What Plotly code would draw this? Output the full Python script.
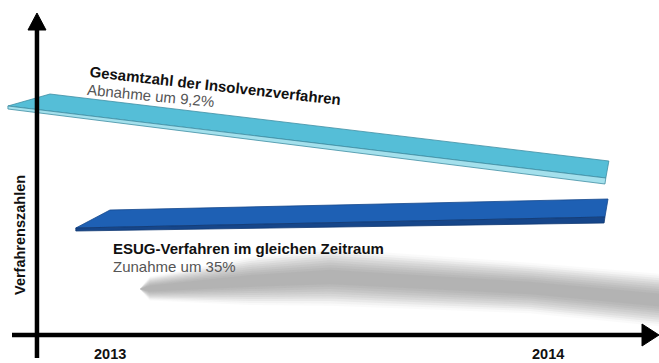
import plotly.graph_objects as go

# ---------------- data (time axis in years, value axis in relative index units) ----------------
years = [2013, 2014]
year_labels = ["2013", "2014"]
y_axis_title = "Verfahrenszahlen"

# Gesamtzahl der Insolvenzverfahren (decreasing band)
gesamt_top_x = [2012.767, 2012.863, 2014.139, 2014.132]
gesamt_top_y = [229, 241, 174, 157]
gesamt_front_x = [2012.767, 2014.132, 2014.130, 2012.767]
gesamt_front_y = [229, 157, 151, 226]
gesamt_title = "Gesamtzahl der Insolvenzverfahren"
gesamt_sub = "Abnahme um 9,2%"

# ESUG-Verfahren (increasing band)
esug_top_x = [2012.922, 2013.000, 2014.137, 2014.130]
esug_top_y = [107, 125, 136, 118]
esug_front_x = [2012.922, 2014.130, 2014.128, 2012.922]
esug_front_y = [107, 118, 112, 104]
esug_title = "ESUG-Verfahren im gleichen Zeitraum"
esug_sub = "Zunahme um 35%"

# soft drop shadow (centre line and half thickness)
shadow_x = [2013.068, 2013.091, 2013.320, 2013.502, 2013.662, 2013.959, 2014.279]
shadow_c = [46, 46.5, 54, 58, 54, 47, 34]
shadow_h = [0, 10, 20, 24, 23, 21, 22]

# axis ranges
x_range = [2012.7489, 2014.2534]
y_range = [-28, 335]

FONT = "Liberation Sans, Arial, Helvetica, sans-serif"

fig = go.Figure()

# shadow layers (stacked translucent polygons to fake a blur)
layers = [(1.2, 0.04), (1.1, 0.05), (1.0, 0.07), (0.9, 0.08), (0.8, 0.08),
          (0.7, 0.08), (0.6, 0.08), (0.5, 0.08), (0.4, 0.08), (0.3, 0.07)]
for k, a in layers:
    up = [c + h * k for c, h in zip(shadow_c, shadow_h)]
    lo = [c - h * k for c, h in zip(shadow_c, shadow_h)]
    fig.add_trace(go.Scatter(
        x=shadow_x + shadow_x[::-1], y=up + lo[::-1],
        mode="lines", fill="toself", line=dict(width=0),
        fillcolor=f"rgba(120,120,120,{a})", hoverinfo="skip", showlegend=False))

def band(xs, ys, fill, edge):
    fig.add_trace(go.Scatter(
        x=xs + xs[:1], y=ys + ys[:1], mode="lines", fill="toself",
        fillcolor=fill, line=dict(color=edge, width=0.8),
        hoverinfo="skip", showlegend=False))

band(gesamt_top_x, gesamt_top_y, "#55bed7", "#3f8ea3")
band(gesamt_front_x, gesamt_front_y, "#a4e0ec", "#3f8ea3")
band(esug_top_x, esug_top_y, "#1e60b4", "#15488c")
band(esug_front_x, esug_front_y, "#16468a", "#113a73")

# axes arrows
xv = 2012.8333
shapes = [
    dict(type="line", xref="x", yref="y", x0=xv, x1=xv, y0=-23, y1=308,
         line=dict(color="black", width=4.5)),
    dict(type="path", xref="x", yref="y",
         path=f"M {xv},322 L 2012.8128,305 L 2012.8539,305 Z",
         fillcolor="black", line=dict(color="black", width=1)),
    dict(type="line", xref="x", yref="y", x0=2012.7763, x1=2014.2170, y0=0, y1=0,
         line=dict(color="black", width=4.5)),
    dict(type="path", xref="x", yref="y",
         path="M 2014.2534,0 L 2014.2146,11 L 2014.2146,-11 Z",
         fillcolor="black", line=dict(color="black", width=1)),
]

annotations = [
    dict(x=2013.2409, y=249.5, text=f"<b>{gesamt_title}</b>", textangle=6.4,
         font=dict(family=FONT, size=15, color="#111"), showarrow=False,
         xanchor="center", yanchor="middle"),
    dict(x=2013.0936, y=240, text=gesamt_sub, textangle=5.6,
         font=dict(family=FONT, size=15, color="#555"), showarrow=False,
         xanchor="center", yanchor="middle"),
    dict(x=2013.0068, y=87, text=f"<b>{esug_title}</b>",
         font=dict(family=FONT, size=15, color="#111"), showarrow=False,
         xanchor="left", yanchor="middle", xshift=-2),
    dict(x=2013.0068, y=69, text=esug_sub,
         font=dict(family=FONT, size=15, color="#555"), showarrow=False,
         xanchor="left", yanchor="middle", xshift=-2),
    dict(x=2012.7945, y=100, text=f"<b>{y_axis_title}</b>", textangle=-90,
         font=dict(family=FONT, size=14.5, color="#111"), showarrow=False,
         xanchor="center", yanchor="middle"),
]
for yr, lab in zip(years, year_labels):
    annotations.append(dict(x=yr, y=-19, text=f"<b>{lab}</b>",
                            font=dict(family=FONT, size=14.5, color="#111"),
                            showarrow=False, xanchor="center", yanchor="middle"))

fig.update_layout(
    width=659, height=363,
    margin=dict(l=0, r=0, t=0, b=0),
    paper_bgcolor="white", plot_bgcolor="white",
    xaxis=dict(range=x_range, visible=False, fixedrange=True),
    yaxis=dict(range=y_range, visible=False, fixedrange=True),
    shapes=shapes, annotations=annotations, showlegend=False,
)

fig.write_html("out.html", config={"displayModeBar": False})
